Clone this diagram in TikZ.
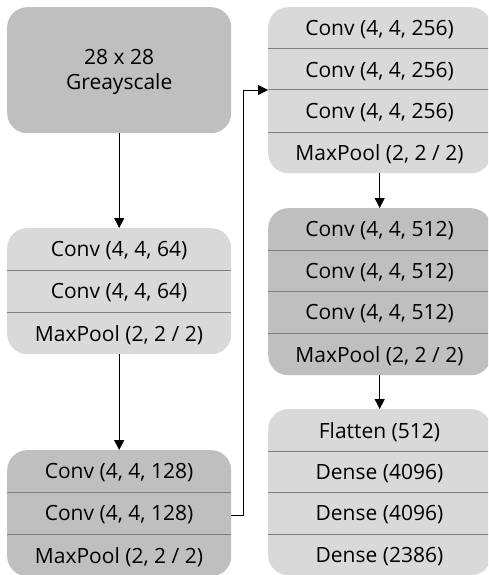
\documentclass[tikz,border=0pt]{standalone}
\usepackage{fontspec}
\setmainfont{Open Sans}
\usetikzlibrary{arrows.meta}
\definecolor{boxdark}{HTML}{BFBFBF}
\definecolor{boxlight}{HTML}{D9D9D9}
\definecolor{sepgray}{HTML}{7F7F7F}
\tikzset{
  stack/.style={rounded corners=20pt, inner sep=0pt, anchor=north west, draw=none},
  dark/.style={fill=boxdark},
  light/.style={fill=boxlight},
  layer/.style={font=\fontsize{21}{25}\selectfont, inner sep=0pt, text=black, yshift=-2pt},
  sepline/.style={draw=sepgray, line width=1pt},
  flow/.style={-{Triangle[length=10pt,width=10pt]}, line width=0.9pt}
}
\begin{document}
\begin{tikzpicture}[x=1pt,y=-1pt]
  \useasboundingbox (0,0) rectangle (488,575);
  \begin{scope}
  \clip (0,0) rectangle (488,575);

  % input block
  \node[stack, dark, minimum width=224pt, minimum height=126pt] (in) at (7,7) {};
  \node[layer, align=center] (inlbl) at (in.center) {28 x 28\\Greayscale};

  % first conv block
  \node[stack, light, minimum width=224pt, minimum height=126pt] (b1) at (7,228) {};
  \draw[sepline] (7,270) -- (231,270);
  \draw[sepline] (7,312) -- (231,312);
  \node[layer] (b1r1) at (119,249) {Conv (4, 4, 64)};
  \node[layer] (b1r2) at (119,291) {Conv (4, 4, 64)};
  \node[layer] (b1r3) at (119,333) {MaxPool (2, 2 / 2)};

  % second conv block
  \node[stack, dark, minimum width=224pt, minimum height=126pt] (b2) at (7,450) {};
  \draw[sepline] (7,492) -- (231,492);
  \draw[sepline] (7,534) -- (231,534);
  \node[layer] (b2r1) at (119,471) {Conv (4, 4, 128)};
  \node[layer] (b2r2) at (119,513) {Conv (4, 4, 128)};
  \node[layer] (b2r3) at (119,555) {MaxPool (2, 2 / 2)};

  % third conv block
  \node[stack, light, minimum width=223pt, minimum height=166pt] (b3) at (268,7) {};
  \draw[sepline] (268,49) -- (491,49);
  \draw[sepline] (268,90) -- (491,90);
  \draw[sepline] (268,132) -- (491,132);
  \coordinate (b3s2) at (268,90);
  \node[layer] (b3r1) at (379.5,28) {Conv (4, 4, 256)};
  \node[layer] (b3r2) at (379.5,69.5) {Conv (4, 4, 256)};
  \node[layer] (b3r3) at (379.5,111) {Conv (4, 4, 256)};
  \node[layer] (b3r4) at (379.5,152.5) {MaxPool (2, 2 / 2)};

  % fourth conv block
  \node[stack, dark, minimum width=223pt, minimum height=167pt] (b4) at (268,208) {};
  \draw[sepline] (268,250) -- (491,250);
  \draw[sepline] (268,291) -- (491,291);
  \draw[sepline] (268,333) -- (491,333);
  \node[layer] (b4r1) at (379.5,229) {Conv (4, 4, 512)};
  \node[layer] (b4r2) at (379.5,270.5) {Conv (4, 4, 512)};
  \node[layer] (b4r3) at (379.5,312) {Conv (4, 4, 512)};
  \node[layer] (b4r4) at (379.5,354) {MaxPool (2, 2 / 2)};

  % dense block
  \node[stack, light, minimum width=223pt, minimum height=166pt] (b5) at (268,409) {};
  \draw[sepline] (268,451) -- (491,451);
  \draw[sepline] (268,492) -- (491,492);
  \draw[sepline] (268,534) -- (491,534);
  \node[layer] (b5r1) at (379.5,430) {Flatten (512)};
  \node[layer] (b5r2) at (379.5,471.5) {Dense (4096)};
  \node[layer] (b5r3) at (379.5,513) {Dense (4096)};
  \node[layer] (b5r4) at (379.5,554.5) {Dense (2386)};

  % connectors
  \draw[flow] (in.south) -- (b1.north);
  \draw[flow] (b1.south) -- (b2.north);
  \draw[flow] (b2.east |- b2r2.center) -- ++(12,0) |- (b3s2);
  \draw[flow] (b3.south) -- (b4.north);
  \draw[flow] (b4.south) -- (b5.north);
  \end{scope}
\end{tikzpicture}
\end{document}
